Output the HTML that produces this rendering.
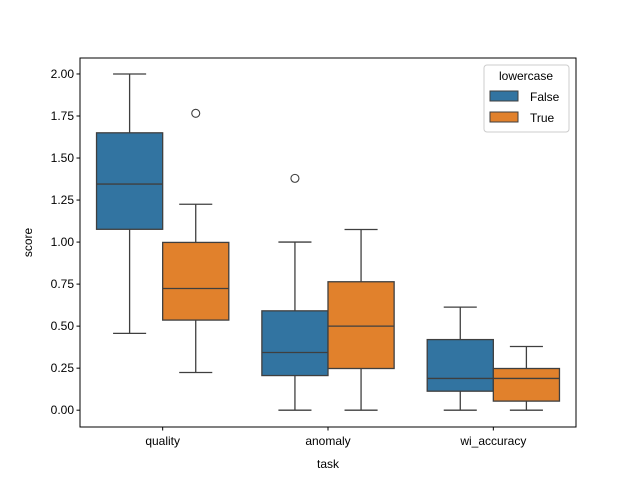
<!DOCTYPE html>
<html><head><meta charset="utf-8"><style>body{margin:0;background:#fff}svg text{font-family:"Liberation Sans","DejaVu Sans",sans-serif;fill:#000}</style></head>
<body>
<svg id="chart" width="640" height="480" xmlns="http://www.w3.org/2000/svg">
<rect width="640" height="480" fill="#fff"/>
<g id="marks"></g>
<g id="axes"></g>
</svg>
<script>
const categories = ["quality","anomaly","wi_accuracy"];
const hues = ["False","True"];
const colors = ["#3274a1","#e1812c"];
// [whiskerLow, q1, median, q3, whiskerHigh] per category
const statsFalse = [[0.457,1.076,1.345,1.65,2.0],[0,0.206,0.343,0.591,1.0],[0,0.113,0.189,0.42,0.613]];
const statsTrue = [[0.224,0.536,0.724,0.998,1.225],[0,0.248,0.5,0.764,1.075],[0,0.054,0.189,0.248,0.379]];
const outliersFalse = [[],[1.379],[]];
const outliersTrue = [[1.766],[],[]];
const yTicks = [0,0.25,0.5,0.75,1.0,1.25,1.5,1.75,2.0];
const yTickLabels = ["0.00","0.25","0.50","0.75","1.00","1.25","1.50","1.75","2.00"];

const L=80,R=576,T=58,B=427,yMin=-0.1,yMax=2.095;
const y=v=>B-(v-yMin)/(yMax-yMin)*(B-T);
const band=(R-L)/categories.length;
const xc=i=>L+band*(i+0.5);
const NS="http://www.w3.org/2000/svg";
function mk(tag,attrs,parent){const e=document.createElementNS(NS,tag);for(const k in attrs)e.setAttribute(k,attrs[k]);parent.appendChild(e);return e;}
const marks=document.getElementById('marks'),axes=document.getElementById('axes');
const bw=band*0.4, stroke="#3f3f3f";
[statsFalse,statsTrue].forEach((S,h)=>{
  S.forEach((s,i)=>{
    const cx=xc(i)+(h===0?-bw/2:bw/2);
    const g=mk('g',{},marks);
    
    
    mk('line',{x1:cx,x2:cx,y1:y(s[0]),y2:y(s[1]),stroke:stroke,'stroke-width':1.3},g);
    mk('line',{x1:cx,x2:cx,y1:y(s[3]),y2:y(s[4]),stroke:stroke,'stroke-width':1.3},g);
    mk('line',{x1:cx-bw/4,x2:cx+bw/4,y1:y(s[0]),y2:y(s[0]),stroke:stroke,'stroke-width':1.3},g);
    mk('line',{x1:cx-bw/4,x2:cx+bw/4,y1:y(s[4]),y2:y(s[4]),stroke:stroke,'stroke-width':1.3},g);
    mk('rect',{x:cx-bw/2,y:y(s[3]),width:bw,height:y(s[1])-y(s[3]),fill:colors[h],stroke:stroke,'stroke-width':1.3},g);
    mk('line',{x1:cx-bw/2,x2:cx+bw/2,y1:y(s[2]),y2:y(s[2]),stroke:stroke,'stroke-width':1.3},g);
    const O=(h===0?outliersFalse:outliersTrue)[i];
    O.forEach(o=>{const c=mk('circle',{cx:cx,cy:y(o),r:4,fill:'none',stroke:stroke,'stroke-width':1.1},g);
      
      });
  });
});
const frame=mk('rect',{x:L,y:T,width:R-L,height:B-T,fill:'none',stroke:'#000','stroke-width':1},axes);


yTicks.forEach((v,i)=>{
  mk('line',{x1:L-3.5,x2:L,y1:y(v),y2:y(v),stroke:'#000'},axes);
  const t=mk('text',{x:L-6,y:y(v)+4,'text-anchor':'end','font-size':12},axes);t.textContent=yTickLabels[i];
  
  
});
categories.forEach((c,i)=>{
  mk('line',{x1:xc(i),x2:xc(i),y1:B,y2:B+3.5,stroke:'#000'},axes);
  const t=mk('text',{x:xc(i),y:B+18,'text-anchor':'middle','font-size':12},axes);t.textContent=c;
  
  
});
let t=mk('text',{x:(L+R)/2,y:468,'text-anchor':'middle','font-size':12},axes);t.textContent='task';


t=mk('text',{x:32,y:(T+B)/2,'text-anchor':'middle','font-size':12,transform:`rotate(-90 32 ${(T+B)/2})`},axes);t.textContent='score';


const lg=mk('g',{},axes);


mk('rect',{x:484,y:65,width:85,height:67,rx:3,fill:'#fff',stroke:'#ccc','fill-opacity':0.8},lg);
t=mk('text',{x:526,y:80,'text-anchor':'middle','font-size':12},lg);t.textContent='lowercase';
hues.forEach((h,i)=>{
  const e=mk('g',{},lg);
  
  
  mk('rect',{x:490,y:91+i*21,width:28,height:10,fill:colors[i],stroke:stroke,'stroke-width':1},e);
  const tt=mk('text',{x:530,y:101+i*21,'font-size':12},e);tt.textContent=h;
});
</script>
</body></html>
